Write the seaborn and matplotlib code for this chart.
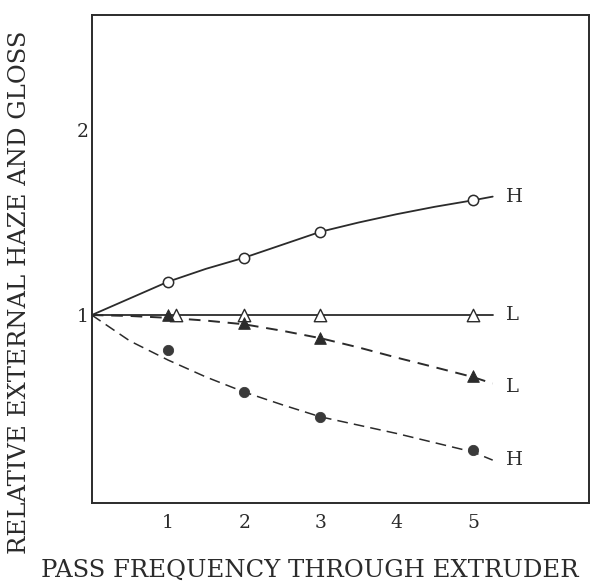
import matplotlib
matplotlib.use("Agg")
import matplotlib.pyplot as plt
import seaborn as sns
import pandas as pd

# Measured points (relative to the unextruded film = 1)
haze_h_x = [1, 2, 3, 5]            # open circles, solid curve
haze_h_y = [1.18, 1.31, 1.45, 1.62]
haze_l_x = [1.1, 2, 3, 5]          # open triangles, solid curve
haze_l_y = [1.0, 1.0, 1.0, 1.0]
gloss_l_x = [1, 2, 3, 5]           # filled triangles, dashed curve
gloss_l_y = [1.0, 0.957, 0.875, 0.67]
gloss_h_x = [1, 2, 3, 5]           # filled circles, dashed curve
gloss_h_y = [0.81, 0.584, 0.45, 0.27]

# Smoothed trend curves
curve_x = [0, 0.5, 1, 1.5, 2, 2.5, 3, 3.5, 4, 4.5, 5, 5.26]
curve_haze_h = [1.0, 1.09, 1.18, 1.25, 1.31, 1.38, 1.45, 1.50, 1.545, 1.585, 1.62, 1.64]
curve_haze_l = [1.0] * len(curve_x)
curve_gloss_l = [1.0, 0.995, 0.985, 0.97, 0.95, 0.915, 0.875, 0.825, 0.77, 0.718, 0.665, 0.63]
curve_gloss_h = [1.0, 0.86, 0.757, 0.665, 0.584, 0.515, 0.45, 0.405, 0.36, 0.31, 0.26, 0.216]

curve_labels = ["H", "L", "L", "H"]
label_y = [1.64, 1.0, 0.61, 0.216]

x_ticks = [1, 2, 3, 4, 5]
y_ticks = [1, 2]

sns.set_theme(style="white")
plt.rcParams["font.family"] = ["DejaVu Serif"]

ink = "#2b2b2b"
fig = plt.figure(figsize=(5.92, 5.87), dpi=100)
ax = fig.add_axes([0.155, 0.143, 0.8395, 0.831])

df = pd.DataFrame({"x": curve_x, "hh": curve_haze_h, "hl": curve_haze_l,
                   "gl": curve_gloss_l, "gh": curve_gloss_h})
sns.lineplot(data=df, x="x", y="hh", ax=ax, color=ink, lw=1.3)
sns.lineplot(data=df, x="x", y="hl", ax=ax, color=ink, lw=1.3)
sns.lineplot(data=df, x="x", y="gl", ax=ax, color=ink, lw=1.4, dashes=False,
             linestyle=(0, (6, 4)))
sns.lineplot(data=df, x="x", y="gh", ax=ax, color=ink, lw=1.1, dashes=False,
             linestyle=(0, (7, 4)))

sns.scatterplot(x=haze_h_x, y=haze_h_y, ax=ax, marker="o", s=55,
                facecolor="white", edgecolor=ink, linewidth=1.1, zorder=5)
sns.scatterplot(x=haze_l_x, y=haze_l_y, ax=ax, marker="^", s=80,
                facecolor="white", edgecolor=ink, linewidth=1.0, zorder=5)
sns.scatterplot(x=gloss_l_x, y=gloss_l_y, ax=ax, marker="^", s=70,
                color=ink, edgecolor=ink, zorder=5)
sns.scatterplot(x=gloss_h_x, y=gloss_h_y, ax=ax, marker="o", s=55,
                color="#3a3a3a", edgecolor="#3a3a3a", zorder=5)

for lab, yv in zip(curve_labels, label_y):
    ax.text(5.44, yv, lab, ha="left", va="center", fontsize=14, color=ink)

ax.set_xlim(0, 6.52)
ax.set_ylim(-0.016, 2.62)
ax.set_xticks(x_ticks)
ax.set_yticks(y_ticks)
ax.tick_params(axis="both", direction="in", length=4, width=0.8,
               colors="#bbbbbb", labelcolor=ink, labelsize=13.5)
ax.tick_params(axis="x", pad=8)
ax.tick_params(axis="y", pad=2)
for sp in ax.spines.values():
    sp.set_visible(True)
    sp.set_color(ink)
    sp.set_linewidth(1.4)

ax.set_xlabel("")
ax.set_ylabel("")
fig.text(310 / 592, 1 - 570 / 587, "PASS FREQUENCY THROUGH EXTRUDER",
         ha="center", va="center", fontsize=17.5, color=ink)
fig.text(20 / 592, 1 - 292 / 587, "RELATIVE EXTERNAL HAZE AND GLOSS",
         ha="center", va="center", rotation=90, fontsize=17.5, color=ink)

fig.savefig("out.png", dpi=100, facecolor="white")
